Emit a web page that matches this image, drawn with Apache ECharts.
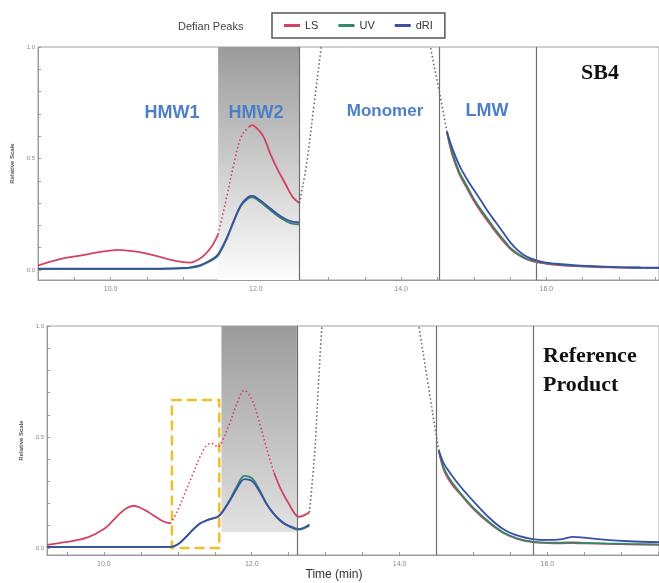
<!DOCTYPE html>
<html>
<head>
<meta charset="utf-8">
<script src="https://cdn.jsdelivr.net/npm/echarts@6/dist/echarts.min.js"></script>
<style>
  html, body { margin: 0; padding: 0; background: #fff; }
  #chart { width: 659px; height: 583px; }
</style>
</head>
<body>
<div id="chart"></div>
<script>
// legend / tick labels
var seriesNames = ['LS', 'UV', 'dRI'];
var xLabelValues = [10, 12, 14, 16];
var yLabelValues = [0, 0.5, 1];
var yTickValues = [0, 0.1, 0.2, 0.3, 0.4, 0.5, 0.6, 0.7, 0.8, 0.9, 1.0];
var topXTicks = [9, 9.5, 10, 10.5, 11, 11.5, 12, 12.5, 13, 13.5, 14, 14.5, 15, 15.5, 16, 16.5, 17, 17.5];
var botXTicks = [9.5, 10, 10.5, 11, 11.5, 12, 12.5, 13, 13.5, 14, 14.5, 15, 15.5, 16, 16.5, 17, 17.5];

// SB4 (top) - left of monomer
var topTimeL = [9.0, 9.2, 9.4, 9.6, 9.8, 10.0, 10.1, 10.2, 10.4, 10.6, 10.8, 11.0, 11.1, 11.2, 11.3, 11.4, 11.48, 11.6, 11.7, 11.8, 11.9, 11.95, 12.0, 12.1, 12.2, 12.3, 12.4, 12.5, 12.6];
var topLSL  = [0.02, 0.04, 0.055, 0.065, 0.078, 0.087, 0.09, 0.088, 0.08, 0.065, 0.048, 0.035, 0.033, 0.045, 0.07, 0.11, 0.16, 0.33, 0.48, 0.6, 0.64, 0.65, 0.64, 0.6, 0.52, 0.45, 0.39, 0.33, 0.3];
var topUVL  = [0.004, 0.004, 0.004, 0.004, 0.004, 0.004, 0.004, 0.004, 0.004, 0.004, 0.005, 0.007, 0.01, 0.015, 0.028, 0.045, 0.065, 0.14, 0.22, 0.29, 0.322, 0.326, 0.32, 0.295, 0.268, 0.242, 0.222, 0.208, 0.205];
var topRIL  = [0.006, 0.006, 0.006, 0.006, 0.006, 0.006, 0.006, 0.006, 0.006, 0.006, 0.007, 0.009, 0.012, 0.018, 0.031, 0.049, 0.07, 0.145, 0.225, 0.295, 0.328, 0.332, 0.326, 0.302, 0.276, 0.25, 0.23, 0.217, 0.214];
// SB4 (top) - LMW side
var topTimeR = [14.63, 14.7, 14.8, 14.9, 15.0, 15.1, 15.2, 15.3, 15.4, 15.5, 15.6, 15.7, 15.8, 15.9, 16.0, 16.2, 16.4, 16.7, 17.0, 17.3, 17.55];
var topLSR  = [0.62, 0.52, 0.43, 0.37, 0.31, 0.26, 0.215, 0.17, 0.13, 0.095, 0.07, 0.052, 0.04, 0.033, 0.027, 0.021, 0.017, 0.013, 0.011, 0.009, 0.008];
var topUVR  = [0.62, 0.53, 0.44, 0.38, 0.32, 0.27, 0.225, 0.18, 0.14, 0.1, 0.075, 0.055, 0.044, 0.036, 0.03, 0.024, 0.019, 0.015, 0.012, 0.01, 0.009];
var topRIR  = [0.62, 0.55, 0.47, 0.41, 0.36, 0.31, 0.26, 0.215, 0.17, 0.125, 0.09, 0.065, 0.05, 0.04, 0.033, 0.026, 0.021, 0.016, 0.013, 0.011, 0.01];
// monomer edges (off scale, dotted)
var topRiseTime = [12.6, 12.7, 12.8, 12.9, 12.95];
var topRiseVal  = [0.3, 0.48, 0.74, 1.0, 1.12];
var topFallTime = [14.35, 14.41, 14.52, 14.63];
var topFallVal  = [1.12, 0.99, 0.81, 0.62];

// Reference product (bottom)
var botTimeL = [9.23, 9.4, 9.6, 9.8, 10.0, 10.1, 10.2, 10.3, 10.4, 10.5, 10.6, 10.7, 10.8, 10.9, 11.0, 11.1, 11.2, 11.3, 11.4, 11.47, 11.54, 11.6, 11.7, 11.8, 11.9, 12.0, 12.1, 12.2, 12.3, 12.4, 12.5, 12.64, 12.78];
var botLSL  = [0.014, 0.022, 0.033, 0.05, 0.085, 0.115, 0.15, 0.178, 0.19, 0.18, 0.162, 0.14, 0.12, 0.11, 0.17, 0.25, 0.33, 0.41, 0.465, 0.47, 0.455, 0.48, 0.56, 0.65, 0.71, 0.67, 0.57, 0.45, 0.34, 0.26, 0.2, 0.14, 0.16];
var botUVL  = [0.004, 0.004, 0.004, 0.004, 0.004, 0.004, 0.004, 0.004, 0.004, 0.004, 0.004, 0.004, 0.004, 0.004, 0.015, 0.045, 0.08, 0.11, 0.125, 0.132, 0.14, 0.162, 0.215, 0.278, 0.325, 0.315, 0.265, 0.2, 0.152, 0.118, 0.098, 0.082, 0.1];
var botRIL  = [0.005, 0.005, 0.005, 0.005, 0.005, 0.005, 0.005, 0.005, 0.005, 0.005, 0.005, 0.005, 0.005, 0.005, 0.016, 0.046, 0.081, 0.11, 0.125, 0.133, 0.14, 0.16, 0.21, 0.268, 0.31, 0.302, 0.258, 0.198, 0.153, 0.12, 0.1, 0.085, 0.105];
var botTimeR = [14.53, 14.6, 14.7, 14.84, 15.0, 15.2, 15.4, 15.6, 15.8, 16.0, 16.2, 16.35, 16.5, 16.8, 17.1, 17.51];
var botLSR  = [0.44, 0.35, 0.29, 0.235, 0.175, 0.115, 0.068, 0.04, 0.026, 0.022, 0.021, 0.022, 0.02, 0.018, 0.016, 0.014];
var botUVR  = [0.44, 0.36, 0.3, 0.24, 0.18, 0.12, 0.07, 0.042, 0.028, 0.024, 0.024, 0.025, 0.023, 0.02, 0.018, 0.016];
var botRIR  = [0.44, 0.38, 0.33, 0.27, 0.21, 0.14, 0.085, 0.055, 0.04, 0.036, 0.04, 0.05, 0.046, 0.036, 0.03, 0.026];
var botRiseTime = [12.78, 12.85, 12.9, 12.95, 12.99];
var botRiseVal  = [0.16, 0.42, 0.72, 1.0, 1.12];
var botFallTime = [14.2, 14.26, 14.38, 14.49, 14.53];
var botFallVal  = [1.12, 1.0, 0.75, 0.52, 0.44];

// region edges / marker lines (minutes)
var topShade = [11.48, 12.6];
var topLines = [12.6, 14.53, 15.86];
var botShade = [11.59, 12.61];
var botLines = [12.61, 14.5, 15.81];
var botBox = [10.92, 11.56, 0.0, 0.667];

var colors = { LS: '#d2435f', UV: '#2f8a68', dRI: '#3d4ea6' };

function pairs(ts, vs) { return ts.map(function (t, i) { return [t, vs[i]]; }); }
// solid part: drop points strictly inside (a, b)
function solidPart(ts, vs, a, b) {
  return ts.map(function (t, i) { return (t > a && t < b) ? [t, '-'] : [t, vs[i]]; });
}
function dottedPart(ts, vs, a, b) {
  return pairs(ts, vs).filter(function (p) { return p[0] >= a && p[0] <= b; });
}

function line(name, idx, data, dotted, color) {
  return {
    name: name, type: 'line', xAxisIndex: idx, yAxisIndex: idx,
    data: data, symbol: 'none', smooth: 0.35, silent: true,
    lineStyle: { color: color || colors[name], width: dotted ? 1.6 : 1.8, type: dotted ? [1.5, 2.5] : 'solid' },
    itemStyle: { color: colors[name] || color }
  };
}

function helper(idx, shade, lines, shadeBottom, gradEnd) {
  return {
    type: 'line', xAxisIndex: idx, yAxisIndex: idx, data: [], silent: true,
    markArea: {
      silent: true,
      itemStyle: {
        color: new echarts.graphic.LinearGradient(0, 0, 0, 1, [
          { offset: 0, color: '#9b9b9b' }, { offset: 1, color: gradEnd }
        ])
      },
      data: [[{ xAxis: shade[0], yAxis: 1.0 }, { xAxis: shade[1], yAxis: shadeBottom }]]
    },
    markLine: {
      silent: true, symbol: 'none', label: { show: false },
      lineStyle: { color: '#6e6e6e', width: 1.2, type: 'solid' },
      data: lines.map(function (v) { return { xAxis: v }; })
    }
  };
}

var series = [
  helper(0, topShade, topLines, -0.045, '#fdfdfd'),
  helper(1, botShade, botLines, 0.07, '#e2e2e2'),
  // top panel
  line('LS', 0, solidPart(topTimeL, topLSL, 11.48, 11.9)),
  line('UV', 0, pairs(topTimeL, topUVL)),
  line('dRI', 0, pairs(topTimeL, topRIL)),
  line('LS', 0, dottedPart(topTimeL, topLSL, 11.48, 11.9), true),
  line('LS', 0, pairs(topTimeR, topLSR)),
  line('UV', 0, pairs(topTimeR, topUVR)),
  line('dRI', 0, pairs(topTimeR, topRIR)),
  line('mono', 0, pairs(topRiseTime, topRiseVal), true, '#6f6470'),
  line('mono', 0, pairs(topFallTime, topFallVal), true, '#6f6470'),
  // bottom panel
  line('LS', 1, solidPart(botTimeL, botLSL, 10.9, 12.3)),
  line('UV', 1, pairs(botTimeL, botUVL)),
  line('dRI', 1, pairs(botTimeL, botRIL)),
  line('LS', 1, dottedPart(botTimeL, botLSL, 10.9, 12.3), true),
  line('LS', 1, pairs(botTimeR, botLSR)),
  line('UV', 1, pairs(botTimeR, botUVR)),
  line('dRI', 1, pairs(botTimeR, botRIR)),
  line('mono', 1, pairs(botRiseTime, botRiseVal), true, '#6f6470'),
  line('mono', 1, pairs(botFallTime, botFallVal), true, '#6f6470'),
  // yellow dashed box
  {
    type: 'line', xAxisIndex: 1, yAxisIndex: 1, data: [], silent: true, z: 5,
    markArea: {
      silent: true,
      itemStyle: { color: 'rgba(0,0,0,0)', borderColor: '#efbf2a', borderWidth: 2.5, borderType: 'dashed' },
      data: [[{ xAxis: botBox[0], yAxis: botBox[3] }, { xAxis: botBox[1], yAxis: botBox[2] }]]
    }
  }
];

function xAxis(idx, min, max, ticks) {
  return {
    type: 'value', gridIndex: idx, min: min, max: max,
    axisLine: { onZero: false, lineStyle: { color: '#9a9a9a' } },
    axisTick: { inside: true, length: 3, customValues: ticks, lineStyle: { color: '#9a9a9a' } },
    axisLabel: { customValues: xLabelValues, fontSize: 7, color: '#888', margin: 6,
                 formatter: function (v) { return v.toFixed(1); } },
    splitLine: { show: false }
  };
}
function yAxis(idx, min, gap) {
  return {
    type: 'value', gridIndex: idx, min: min, max: 1.0,
    name: 'Relative Scale', nameLocation: 'middle', nameGap: gap, nameRotate: 90,
    nameTextStyle: { fontSize: 6, fontWeight: 'bold', color: '#555' },
    axisLine: { show: true, onZero: false, lineStyle: { color: '#9a9a9a' } },
    axisTick: { show: true, inside: true, length: 3, customValues: yTickValues, lineStyle: { color: '#9a9a9a' } },
    axisLabel: { customValues: yLabelValues, fontSize: 6, color: '#888', margin: 3,
                 formatter: function (v) { return v.toFixed(1); } },
    splitLine: { show: false }
  };
}

function label(text, x, y, font, fill) {
  return { type: 'text', x: x, y: y, z: 100,
           style: { text: text, font: font, fill: fill, align: 'center', verticalAlign: 'middle' } };
}

var chart = echarts.init(document.getElementById('chart'));
chart.setOption({
  animation: false,
  backgroundColor: '#fff',
  grid: [
    { left: 38, top: 47, width: 623, height: 233, show: true, borderColor: '#a0a0a0', borderWidth: 1 },
    { left: 47, top: 326, width: 614, height: 229, show: true, borderColor: '#a0a0a0', borderWidth: 1 }
  ],
  xAxis: [xAxis(0, 9.0, 17.55, topXTicks), xAxis(1, 9.23, 17.51, botXTicks)],
  yAxis: [yAxis(0, -0.045, 20), yAxis(1, -0.032, 18)],
  legend: {
    data: seriesNames, left: 272, top: 13, padding: [7, 12, 7, 12],
    borderColor: '#555', borderWidth: 1.5, itemGap: 20,
    icon: 'rect', itemWidth: 16, itemHeight: 3,
    textStyle: { fontSize: 11, color: '#333' }, selectedMode: false
  },
  graphic: [
    { type: 'text', left: 178, top: 21, z: 100, style: { text: 'Defian Peaks', font: '11px "Liberation Sans"', fill: '#444' } },
    label('HMW1', 172, 113, 'bold 18px "Liberation Sans"', '#4c7fc6'),
    label('HMW2', 256, 113, 'bold 18px "Liberation Sans"', '#4c7fc6'),
    label('Monomer', 385, 111, 'bold 17px "Liberation Sans"', '#4c7fc6'),
    label('LMW', 487, 111, 'bold 18px "Liberation Sans"', '#4c7fc6'),
    label('SB4', 600, 73, 'bold 22px "Liberation Serif"', '#111'),
    { type: 'text', left: 543, top: 342, z: 100, style: { text: 'Reference\nProduct', font: 'bold 22px "Liberation Serif"', lineHeight: 29, fill: '#111' } },
    label('Time (min)', 334, 575, '12px "Liberation Sans"', '#333')
  ],
  series: series
});
</script>
</body>
</html>
